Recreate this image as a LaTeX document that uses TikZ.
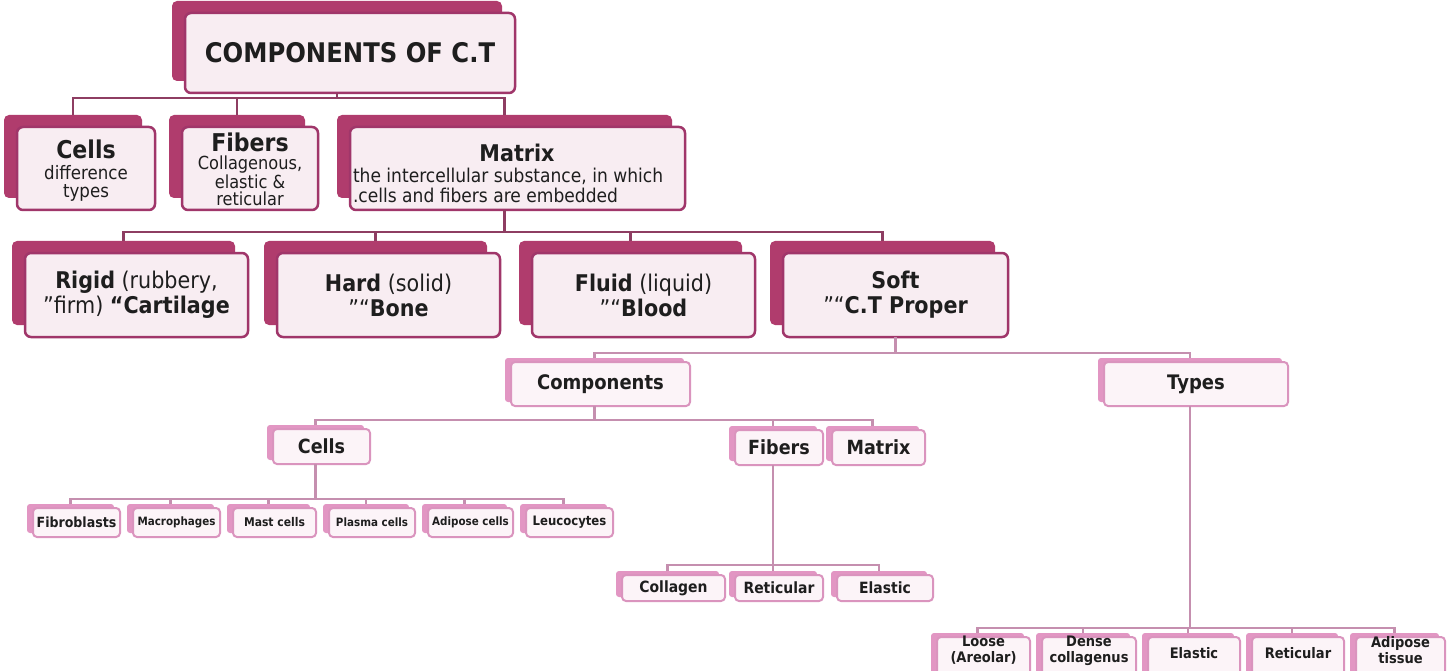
\documentclass[tikz,border=0pt]{standalone}
\usepackage{fontspec}
\setmainfont{DejaVu Sans}[FakeStretch=0.9]
\usetikzlibrary{calc}
\definecolor{backA}{HTML}{B03C6D}
\definecolor{edgeA}{HTML}{A0366A}
\definecolor{fillA}{HTML}{F8EDF2}
\definecolor{lineA}{HTML}{8E3D62}
\definecolor{backB}{HTML}{E296C3}
\definecolor{edgeB}{HTML}{DA94BE}
\definecolor{fillB}{HTML}{FCF4F8}
\definecolor{lineB}{HTML}{C58FAF}
\definecolor{ink}{HTML}{1E1E1E}
\newcommand\fs[2]{\fontsize{#1}{#2}\selectfont}
\tikzset{
  boxcommon/.style={rectangle, inner sep=0pt, outer sep=0pt},
  Aback/.style={fill=backA, rounded corners=5pt, xshift=-13pt, yshift=12pt},
  Afront/.style={fill=fillA, draw=edgeA, line width=2.5pt, rounded corners=6pt},
  Bback/.style={fill=backB, rounded corners=3pt, xshift=-6pt, yshift=4pt},
  Bfront/.style={fill=fillB, draw=edgeB, line width=2pt, rounded corners=4pt},
  txt/.style={inner sep=0pt, outer sep=0pt, align=center, text=ink},
  conA/.style={draw=lineA, line width=2.8pt},
  conB/.style={draw=lineB, line width=2.6pt},
}
% #1 text options, #2 level (A/B), #3 name, #4-#7 front box x1,y1,x2,y2, #8 text
\newcommand\mybox[8][]{%
  \node[boxcommon,#2back,minimum width={#6-#4},minimum height={#7-#5}] (#3-b) at ({(#4+#6)/2},{(#5+#7)/2}) {};
  \node[boxcommon,#2front,minimum width={#6-#4},minimum height={#7-#5}] (#3) at ({(#4+#6)/2},{(#5+#7)/2}) {};
  \node[txt,#1] (#3-t) at (#3.center) {#8};
}
\begin{document}
\begin{tikzpicture}[x=1pt,y=-1pt]
\useasboundingbox[fill=white] (0,0) rectangle (1451,671);

% level 1
\mybox[font={\fs{27}{30}\bfseries}]{A}{top}{185}{13}{515}{93}{COMPONENTS OF C.T}

% level 2
\mybox[font={\fs{18.5}{18}}, yshift=-2pt]{A}{cells}{17}{127}{155}{210}{{\fs{24.5}{24}\bfseries Cells}\\[3pt]difference\\types}
\mybox[font={\fs{18}{17}}, yshift=-1pt]{A}{fibers}{182}{127}{318}{210}{{\fs{24.5}{24}\bfseries Fibers}\\[1pt]Collagenous,\\elastic \&\\reticular}
\mybox{A}{matrix}{350}{127}{685}{210}{}
\node[txt, font={\fs{23}{23}\bfseries}, anchor=base] (matrix-title) at (517,162) {Matrix};
\node[txt, font={\fs{19}{20}}, align=left, anchor=north west] (matrix-sub) at (353,168) {the intercellular substance, in which\\.cells and fibers are embedded};

% level 3
\mybox[font={\fs{23}{25}}]{A}{rigid}{25}{253}{248}{337}{\textbf{Rigid} (rubbery,\\”firm) \textbf{“Cartilage}}
\mybox[font={\fs{23}{25}}]{A}{hard}{277}{253}{500}{337}{\textbf{Hard} (solid)\\”“\textbf{Bone}}
\mybox[font={\fs{23}{25}}]{A}{fluid}{532}{253}{755}{337}{\textbf{Fluid} (liquid)\\”“\textbf{Blood}}
\mybox[font={\fs{23}{25}}]{A}{soft}{783}{253}{1008}{337}{\textbf{Soft}\\”“\textbf{C.T Proper}}

% level 4
\mybox[font={\fs{20}{22}\bfseries}]{B}{comp}{511}{362}{690}{406}{Components}
\mybox[font={\fs{20}{22}\bfseries}]{B}{types}{1104}{362}{1288}{406}{Types}

% level 5
\mybox[font={\fs{19.5}{21}\bfseries}]{B}{cells5}{273}{429}{370}{464}{Cells}
\mybox[font={\fs{19.5}{21}\bfseries}]{B}{fibers5}{735}{430}{823}{465}{Fibers}
\mybox[font={\fs{19.5}{21}\bfseries}]{B}{matrix5}{832}{430}{925}{465}{Matrix}

% cell leaves
\mybox[font={\fs{14}{15}\bfseries}]{B}{fibro}{33}{508}{120}{537}{Fibroblasts}
\mybox[font={\fs{11.5}{13}\bfseries}]{B}{macro}{133}{508}{220}{537}{Macrophages}
\mybox[font={\fs{12}{13}\bfseries}]{B}{mast}{233}{508}{316}{537}{Mast cells}
\mybox[font={\fs{11.5}{13}\bfseries}]{B}{plasma}{329}{508}{415}{537}{Plasma cells}
\mybox[font={\fs{11.5}{13}\bfseries}]{B}{adipose}{428}{508}{513}{537}{Adipose cells}
\mybox[font={\fs{13}{14}\bfseries}]{B}{leuco}{526}{508}{613}{537}{Leucocytes}

% fiber leaves
\mybox[font={\fs{15.5}{17}\bfseries}]{B}{collagen}{622}{575}{725}{601}{Collagen}
\mybox[font={\fs{15.5}{17}\bfseries}]{B}{reticular}{735}{575}{823}{601}{Reticular}
\mybox[font={\fs{15.5}{17}\bfseries}]{B}{elastic}{837}{575}{933}{601}{Elastic}

% type leaves
\mybox[font={\fs{14.5}{16}\bfseries}, yshift=8pt]{B}{loose}{937}{637}{1030}{680}{Loose\\(Areolar)}
\mybox[font={\fs{14.5}{16}\bfseries}, yshift=8pt]{B}{dense}{1042}{637}{1136}{680}{Dense\\collagenus}
\mybox[font={\fs{14.5}{16}\bfseries}, yshift=5pt]{B}{elastic2}{1148}{637}{1240}{680}{Elastic}
\mybox[font={\fs{14.5}{16}\bfseries}, yshift=5pt]{B}{retic2}{1252}{637}{1344}{680}{Reticular}
\mybox[font={\fs{14.5}{16}\bfseries}, yshift=8pt]{B}{adip2}{1356}{637}{1445}{680}{Adipose\\tissue}

% connectors
\coordinate (j1) at (0,98);
\coordinate (j2) at (0,232);
\coordinate (j3) at (0,353);
\coordinate (j4) at (0,420);
\coordinate (j5) at (0,499);
\coordinate (j6) at (0,565);
\coordinate (j7) at (0,628);

\draw[conA] (top-b.center |- top.south) -- (top-b.center |- j1);
\draw[conA] (cells-b.north) -- (cells-b.north |- j1) -- (matrix-b.north |- j1) -- (matrix-b.north);
\draw[conA] (fibers-b.north) -- (fibers-b.north |- j1);

\draw[conA] (matrix-b.center |- matrix.south) -- (matrix-b.center |- j2);
\draw[conA] (rigid-b.north) -- (rigid-b.north |- j2) -- (soft-b.north |- j2) -- (soft-b.north);
\draw[conA] (hard-b.north) -- (hard-b.north |- j2);
\draw[conA] (fluid-b.north) -- (fluid-b.north |- j2);

\draw[conB] (soft.south) -- (soft.south |- j3);
\draw[conB] (comp-b.north) -- (comp-b.north |- j3) -- (types-b.north |- j3) -- (types-b.north);

\draw[conB] (comp-b.center |- comp.south) -- (comp-b.center |- j4);
\draw[conB] (cells5-b.north) -- (cells5-b.north |- j4) -- (matrix5-b.north |- j4) -- (matrix5-b.north);
\draw[conB] (fibers5-b.north) -- (fibers5-b.north |- j4);

\draw[conB] (cells5-b.center |- cells5.south) -- (cells5-b.center |- j5);
\draw[conB] (fibro-b.north) -- (fibro-b.north |- j5) -- (leuco-b.north |- j5) -- (leuco-b.north);
\foreach \n in {macro,mast,plasma,adipose} \draw[conB] (\n-b.north) -- (\n-b.north |- j5);

\draw[conB] (fibers5-b.center |- fibers5.south) -- (fibers5-b.center |- j6);
\draw[conB] (collagen-b.north) -- (collagen-b.north |- j6) -- (elastic-b.north |- j6) -- (elastic-b.north);
\draw[conB] (reticular-b.north) -- (reticular-b.north |- j6);

\draw[conB] (types-b.center |- types.south) -- (types-b.center |- j7);
\draw[conB] (loose-b.north) -- (loose-b.north |- j7) -- (adip2-b.north |- j7) -- (adip2-b.north);
\foreach \n in {dense,elastic2,retic2} \draw[conB] (\n-b.north) -- (\n-b.north |- j7);
\end{tikzpicture}
\end{document}
